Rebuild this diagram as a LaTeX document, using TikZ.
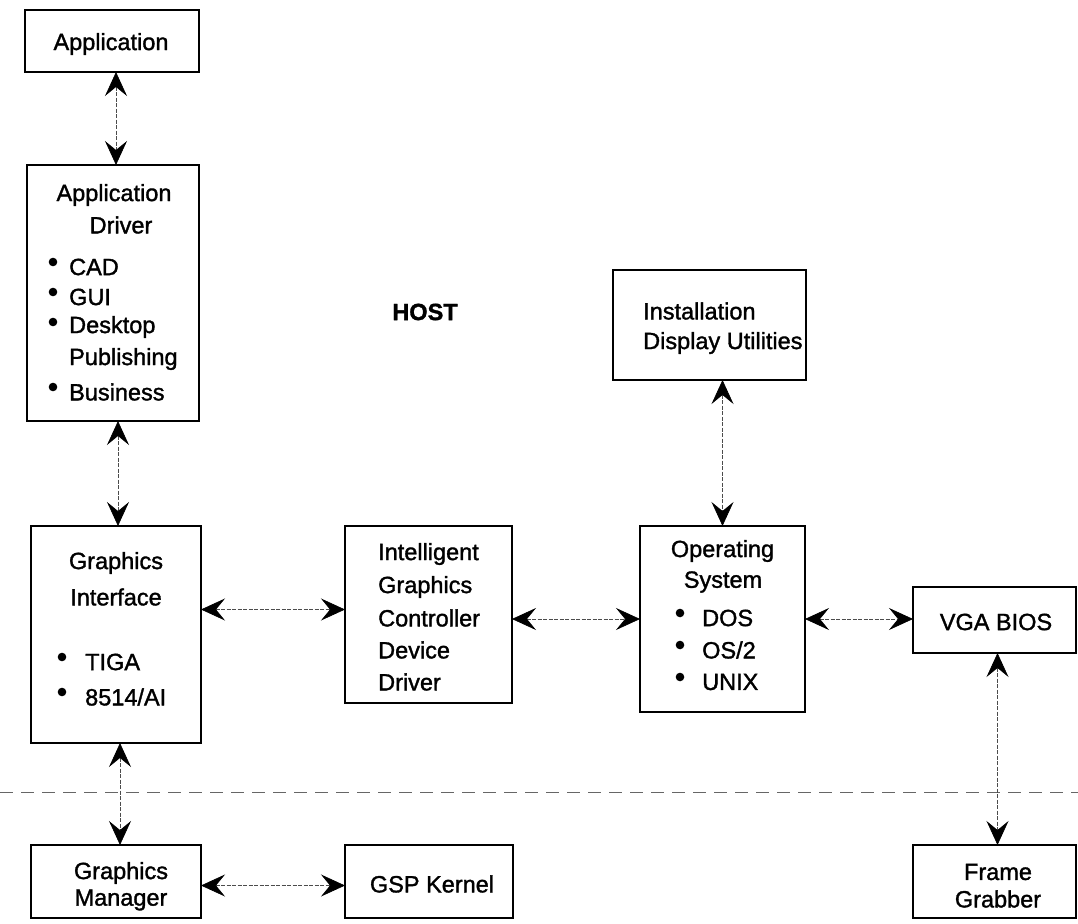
\documentclass[tikz,border=0pt]{standalone}
\usepackage{fontspec}
\setmainfont{Liberation Sans}[FakeBold=1.4]
\usetikzlibrary{arrows.meta}
\begin{document}
\begin{tikzpicture}[x=1pt,y=-1pt,
  box/.style={draw, line width=1.8pt, inner sep=0pt, outer sep=0pt},
  txt/.style={inner sep=0pt, font=\fontsize{23.5}{28}\selectfont},
  lft/.style={txt, anchor=west},
  link/.style={{Stealth[length=24pt,width=22pt,inset=9pt,black]}-{Stealth[length=24pt,width=22pt,inset=9pt,black]},
     line width=0.7pt, dash pattern=on 4pt off 1.5pt, black!70},
  sep/.style={line width=0.8pt, dash pattern=on 13pt off 8pt, black!60},
  dot/.style={fill=black}
]
\useasboundingbox (0,0) rectangle (1078,923);

% boxes
\node[box, minimum width=174pt, minimum height=62pt]  (app)  at (112,41) {};
\node[box, minimum width=172pt, minimum height=256pt] (drv)  at (113,293) {};
\node[box, minimum width=170pt, minimum height=217pt] (gi)   at (116,634.5) {};
\node[box, minimum width=170pt, minimum height=73pt]  (gm)   at (116,881.5) {};
\node[box, minimum width=168pt, minimum height=73pt]  (gsp)  at (429,881.5) {};
\node[box, minimum width=167pt, minimum height=177pt] (icg)  at (428.5,614.5) {};
\node[box, minimum width=193pt, minimum height=110pt] (inst) at (709.5,325) {};
\node[box, minimum width=165pt, minimum height=186pt] (os)   at (722.5,619) {};
\node[box, minimum width=163pt, minimum height=66pt]  (vga)  at (994.5,620) {};
\node[box, minimum width=163pt, minimum height=73pt]  (fg)   at (994.5,881.5) {};

% texts
\node[txt] (tapp) at (111,44) {Application};

\node[txt] (tdrv1) at (114,195) {Application};
\node[txt] (tdrv2) at (121,225) {Driver};
\node[lft] (tdrv3) at (69,267) {CAD};
\node[lft] (tdrv4) at (69,297) {GUI};
\node[lft] (tdrv5) at (69,327) {Desktop};
\node[lft] (tdrv6) at (69,359) {Publishing};
\node[lft] (tdrv7) at (69,392) {Business};
\fill[dot] (53,262) circle[radius=4.3pt];
\fill[dot] (53,292) circle[radius=4.3pt];
\fill[dot] (53,322) circle[radius=4.3pt];
\fill[dot] (53,387) circle[radius=4.3pt];

\node[txt] (tgi1) at (116,563) {Graphics};
\node[txt] (tgi2) at (116,597) {Interface};
\node[lft] (tgi3) at (85,662) {TIGA};
\node[lft] (tgi4) at (85,697) {8514/AI};
\fill[dot] (62,657) circle[radius=4.3pt];
\fill[dot] (62,692) circle[radius=4.3pt];

\node[txt] (tgm1) at (121,873) {Graphics};
\node[txt] (tgm2) at (121,900) {Manager};

\node[txt] (tgsp) at (432,884) {GSP Kernel};

\node[lft] (ticg1) at (378,554) {Intelligent};
\node[lft] (ticg2) at (378,587) {Graphics};
\node[lft] (ticg3) at (378,618) {Controller};
\node[lft] (ticg4) at (378,650) {Device};
\node[lft] (ticg5) at (378,682) {Driver};

\node[lft] (tinst1) at (643,311) {Installation};
\node[lft] (tinst2) at (643,343) {Display Utilities};

\node[txt, font=\fontsize{23.5}{28}\selectfont\bfseries] (host) at (425,312) {HOST};

\node[txt] (tos1) at (722.5,551) {Operating};
\node[txt] (tos2) at (723,582) {System};
\node[lft] (tos3) at (702,618) {DOS};
\node[lft] (tos4) at (702,650) {OS/2};
\node[lft] (tos5) at (702,682) {UNIX};
\fill[dot] (680,613) circle[radius=4.3pt];
\fill[dot] (680,645) circle[radius=4.3pt];
\fill[dot] (680,677) circle[radius=4.3pt];

\node[txt] (tvga) at (996,622) {VGA BIOS};
\node[txt] (tfg1) at (998,872) {Frame};
\node[txt] (tfg2) at (998,899) {Grabber};

% host / board separator
\draw[sep] (0,792) -- (1078,792);

% connectors
\draw[link] ([xshift=4pt]app.south) -- ([xshift=4pt]app.south |- drv.north);
\draw[link] ([xshift=5pt]drv.south) -- ([xshift=5pt]drv.south |- gi.north);
\draw[link] ([xshift=4pt]gi.south) -- ([xshift=4pt]gi.south |- gm.north);
\draw[link] ([yshift=5pt]icg.west -| gi.east) -- ([yshift=5pt]icg.west);
\draw[link] (icg.east |- os.west) -- (os.west);
\draw[link] (os.east) -- (os.east -| vga.west);
\draw[link] (os.north |- inst.south) -- (os.north);
\draw[link] ([xshift=3pt]vga.south) -- ([xshift=3pt]fg.north);
\draw[link] ([yshift=-4pt]gm.east |- gsp.west) -- ([yshift=-4pt]gsp.west);
\end{tikzpicture}
\end{document}
